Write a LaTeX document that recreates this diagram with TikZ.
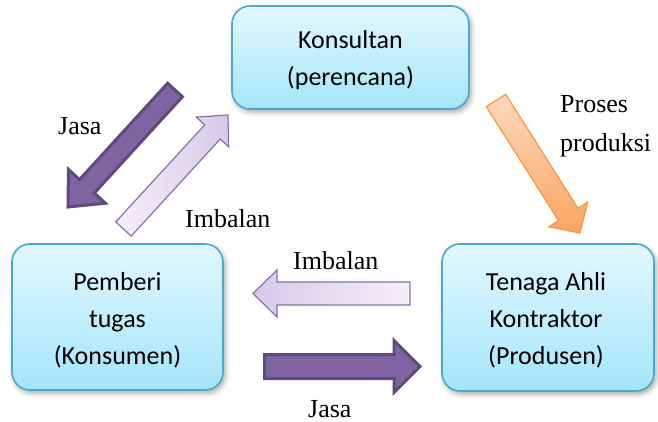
\documentclass[tikz,border=0pt]{standalone}
\usepackage{fontspec}
\setmainfont{Liberation Serif}
\newfontfamily\boxfont{Carlito}
\usetikzlibrary{calc,shadows.blur}

\definecolor{boxtop}{HTML}{E2F8FF}
\definecolor{boxbot}{HTML}{A4E5FA}
\definecolor{boxedge}{HTML}{4BA9C8}
\definecolor{jasafill}{HTML}{8064A2}
\definecolor{jasaedge}{HTML}{5F4A7C}
\definecolor{imbedge}{HTML}{8A70AE}
\definecolor{imblight}{HTML}{F4F0F9}
\definecolor{imbdark}{HTML}{D6CAE8}
\definecolor{prolight}{HTML}{FCD9BC}
\definecolor{prodark}{HTML}{F9A560}
\definecolor{proedge}{HTML}{F79646}

% block arrow from tail coordinate #2 to tip coordinate #3:
% #4 half shaft width, #5 half head width, #6 head length
\newcommand\blockarrow[6]{%
  \coordinate (ba-base) at ($(#3)!#6!(#2)$);
  \draw[#1]
    ($(#2)!#4!90:(#3)$) -- ($(ba-base)!#4!90:(#3)$) --
    ($(ba-base)!#5!90:(#3)$) -- (#3) --
    ($(ba-base)!#5!-90:(#3)$) -- ($(ba-base)!#4!-90:(#3)$) --
    ($(#2)!#4!-90:(#3)$) -- cycle;
}

\tikzset{
  party/.style={draw=boxedge, line width=1.6pt, rounded corners=18pt,
    top color=boxtop, bottom color=boxbot, inner sep=0pt,
    blur shadow={shadow xshift=2pt, shadow yshift=-3pt,
      shadow blur radius=5pt, shadow opacity=35}},
  partytext/.style={align=center, inner sep=0pt,
    font=\boxfont\fontsize{26}{37}\selectfont},
  jasaarrow/.style={fill=jasafill, draw=jasaedge, line width=3pt, line join=miter},
  imbarrow/.style={draw=imbedge, line width=1.2pt, line join=miter},
  proarrow/.style={draw=proedge, line width=1.2pt, line join=miter},
  lbl/.style={font=\fontsize{26}{30}\selectfont, inner sep=0pt, anchor=base west},
}

\begin{document}
\begin{tikzpicture}[x=1pt, y=-1pt]
\useasboundingbox (0,0) rectangle (658,422);

% parties
\node[party, minimum width=237pt, minimum height=103pt] (kons) at (350.5,57.5) {};
\node[partytext] (kons-t) at ($(kons.center)+(0,3)$) {Konsultan\\(perencana)};
\node[party, minimum width=211pt, minimum height=146pt] (pemb) at (117.5,317) {};
\node[partytext] (pemb-t) at ($(pemb.center)+(0,3.5)$) {Pemberi\\tugas\\(Konsumen)};
\node[party, minimum width=212pt, minimum height=147pt] (tena) at (548,317.5) {};
\node[partytext] (tena-t) at ($(tena.center)+(-2,3)$) {Tenaga Ahli\\Kontraktor\\(Produsen)};

% arrow ends
\coordinate (jasa1-t) at (175,90);
\coordinate (jasa1-h) at (68,207);
\coordinate (imb1-t) at (123.5,229);
\coordinate (imb1-h) at (228,115);
\coordinate (pro-t) at (496,100.5);
\coordinate (pro-h) at (580,233);
\coordinate (imb2-t) at (410,293.5);
\coordinate (imb2-h) at (253,293.5);
\coordinate (jasa2-t) at (264.5,366.5);
\coordinate (jasa2-h) at (420,366.5);

\blockarrow{jasaarrow}{jasa1-t}{jasa1-h}{10pt}{25pt}{28pt}
\blockarrow{imbarrow, left color=imblight, right color=imbdark}{imb1-t}{imb1-h}{10.5pt}{22pt}{23pt}
\blockarrow{proarrow, top color=prolight, bottom color=prodark}{pro-t}{pro-h}{11.5pt}{23pt}{22pt}
\blockarrow{imbarrow, left color=imbdark, right color=imblight}{imb2-t}{imb2-h}{11.5pt}{23.5pt}{24pt}
\blockarrow{jasaarrow}{jasa2-t}{jasa2-h}{12pt}{26pt}{26pt}

% labels
\node[lbl] (l-jasa1) at (58,135) {Jasa};
\node[lbl] (l-imb1) at (185,227) {Imbalan};
\node[lbl] (l-pro1) at (560,113) {Proses};
\node[lbl] (l-pro2) at (560,152) {produksi};
\node[lbl] (l-imb2) at (293,269) {Imbalan};
\node[lbl] (l-jasa2) at (308,417) {Jasa};
\end{tikzpicture}
\end{document}
